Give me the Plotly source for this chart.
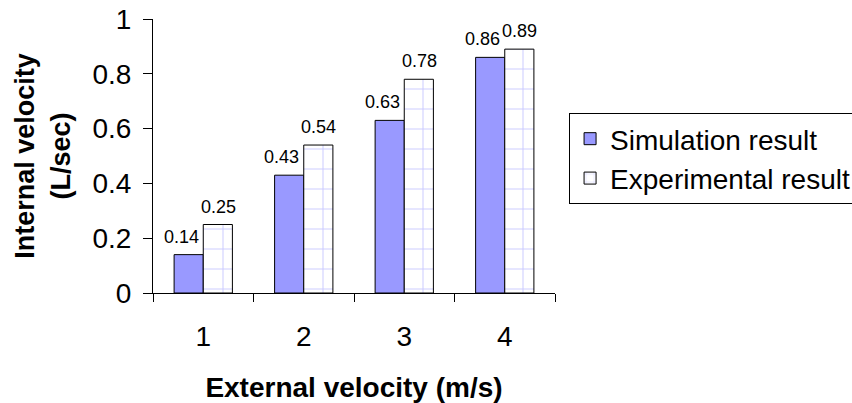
import plotly.graph_objects as go

categories = ["1", "2", "3", "4"]
simulation = [0.14, 0.43, 0.63, 0.86]
experimental = [0.25, 0.54, 0.78, 0.89]
y_tick_vals = [0, 0.2, 0.4, 0.6, 0.8, 1.0]
y_tick_text = ["0", "0.2", "0.4", "0.6", "0.8", "1"]

FONT = "Liberation Sans, Arial, sans-serif"
SIM_COLOR = "#9999FF"

fig = go.Figure()
fig.add_trace(go.Bar(
    x=categories, y=simulation, name="Simulation result",
    marker=dict(color=SIM_COLOR, line=dict(color="black", width=1)),
))
fig.add_trace(go.Bar(
    x=categories, y=experimental, name="Experimental result",
    marker=dict(
        color="white",
        line=dict(color="black", width=1),
        pattern=dict(shape="+", fgcolor=SIM_COLOR, bgcolor="white",
                     size=20, solidity=0.1, fillmode="overlay"),
    ),
))

annotations = []
for i, v in enumerate(simulation):
    annotations.append(dict(x=i, y=v, xref="x", yref="y", text=f"{v:.2f}",
                            showarrow=False, xshift=-22, yshift=6,
                            yanchor="bottom",
                            font=dict(family=FONT, size=18, color="black")))
for i, v in enumerate(experimental):
    annotations.append(dict(x=i, y=v, xref="x", yref="y", text=f"{v:.2f}",
                            showarrow=False, xshift=15, yshift=6,
                            yanchor="bottom",
                            font=dict(family=FONT, size=18, color="black")))

fig.update_layout(
    width=852, height=403,
    margin=dict(l=153, r=297, t=19, b=110, autoexpand=False),
    paper_bgcolor="white", plot_bgcolor="white",
    barmode="group", bargap=0.42, bargroupgap=0,
    font=dict(family=FONT, size=28, color="black"),
    showlegend=True,
    legend=dict(x=1.035, y=0.657, xanchor="left", yanchor="top",
                bordercolor="black", borderwidth=1, bgcolor="white",
                font=dict(family=FONT, size=28, color="black"),
                tracegroupgap=0),
    annotations=annotations,
    xaxis=dict(
        type="category", range=[-0.5, len(categories) - 0.5],
        tickson="boundaries", ticks="outside", ticklen=8,
        tickcolor="black", showline=True, linecolor="black", linewidth=1,
        showgrid=False, ticklabelstandoff=18,
        title=dict(text="<b>External velocity (m/s)</b>", standoff=27,
                   font=dict(family=FONT, size=28, color="black")),
    ),
    yaxis=dict(
        range=[0, 1], tickvals=y_tick_vals, ticktext=y_tick_text,
        ticks="outside", ticklen=9, tickcolor="black",
        showline=True, linecolor="black", linewidth=1, showgrid=False,
        zeroline=False, ticklabelstandoff=6,
        title=dict(text="<b>Internal velocity<br>(L/sec)</b>", standoff=14,
                   font=dict(family=FONT, size=27, color="black")),
    ),
)

fig.write_html("out.html", config={"displayModeBar": False},
               post_script="document.body.style.margin='0';")
